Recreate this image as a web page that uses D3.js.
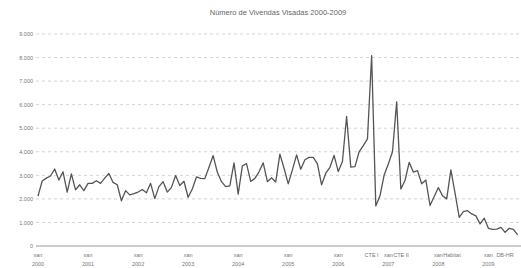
<!DOCTYPE html>
<html><head><meta charset="utf-8">
<script src="https://cdn.jsdelivr.net/npm/d3@7"></script>
<style>
html,body{margin:0;padding:0;background:#fff;}
svg{display:block;font-family:"Liberation Sans",Arial,sans-serif;}
</style></head>
<body><svg id="c" width="521" height="268"></svg>
<script>
const title = "Número de Vivendas Visadas 2000-2009";
const startYear = 2000;
const monthAbbr = "xan";
const yTicks = [0,1000,2000,3000,4000,5000,6000,7000,8000,9000];
// monthly values, Jan 2000 – Aug 2009
const values = [
2120,2760,2880,2970,3270,2800,3150,2290,3060,2380,2600,2350,
2660,2660,2770,2660,2880,3080,2700,2600,1920,2350,2170,2220,
2290,2400,2260,2660,2010,2520,2730,2290,2490,2990,2570,2750,
2070,2420,2930,2870,2860,3340,3840,3130,2730,2520,2550,3530,
2200,3400,3500,2740,2870,3150,3530,2730,2900,2720,3900,3300,
2640,3230,3870,3260,3660,3760,3760,3490,2600,3090,3340,3850,
3160,3590,5500,3350,3370,4000,4260,4550,8080,1700,2130,3010,
3480,4000,6120,2420,2780,3550,3140,3200,2640,2800,1720,2100,
2480,2130,2000,3230,2240,1220,1460,1500,1360,1280,940,1180,
750,710,720,790,580,750,710,470];
// event labels: month index and text
const eventIdx = [80, 86, 99, 112];
const eventText = ["CTE I", "CTE II", "Habitat", "DB-HR"];
const eventAnchor = ["middle", "start", "start", "middle"];
const eventShift = [0, -3.4, -7.6, 0];

const svg = d3.select("#c");
const x = d3.scaleLinear().domain([0, values.length-1]).range([38, 517.6]);
const y = d3.scaleLinear().domain([0, 9000]).range([246, 34]);
const loc = d3.formatLocale({decimal:",", thousands:".", grouping:[3], currency:["",""]});
const fmt = loc.format(",");

svg.append("text").attr("x", 278).attr("y", 15).attr("text-anchor","middle")
  .attr("font-size", 7.5).attr("fill", "#666").text(title);

// grid
svg.append("g").selectAll("line").data(yTicks.filter(d=>d>0)).join("line")
  .attr("x1", 36).attr("x2", 521).attr("y1", d=>y(d)).attr("y2", d=>y(d))
  .attr("stroke", "#d4d4d4").attr("stroke-width", 1).attr("stroke-dasharray", "3,3");

// y axis labels
const ya = svg.append("g").attr("transform","translate(36,0)")
  .call(d3.axisLeft(y).tickValues(yTicks).tickFormat(fmt).tickSize(0).tickPadding(3));
ya.select(".domain").remove();
ya.selectAll("text").attr("font-size", 5.5).attr("fill", "#777").attr("font-family", "Liberation Sans, Arial, sans-serif");

// baseline
svg.append("line").attr("x1", 36).attr("x2", 521).attr("y1", y(0)).attr("y2", y(0))
  .attr("stroke", "#999").attr("stroke-width", 1);

// x labels
const jan = d3.range(0, values.length, 12);
const xl = svg.append("g").attr("font-size", 5.5).attr("fill", "#777").attr("text-anchor","middle");
xl.selectAll("text.m").data(jan).join("text").attr("class","m")
  .attr("x", d=>x(d)).attr("y", 256.5).text(monthAbbr);
xl.selectAll("text.yr").data(jan).join("text").attr("class","yr")
  .attr("x", d=>x(d)).attr("y", 265.5).text(d=>startYear + d/12);
xl.selectAll("text.ev").data(eventIdx).join("text").attr("class","ev")
  .attr("text-anchor", (d,i)=>eventAnchor[i])
  .attr("x", (d,i)=>x(d) + eventShift[i]).attr("y", 256.5).text((d,i)=>eventText[i]);

// line
svg.append("path").datum(values)
  .attr("d", d3.line().x((d,i)=>x(i)).y(d=>y(d)))
  .attr("fill","none").attr("stroke","#555").attr("stroke-width",1.3).attr("stroke-linejoin","round");
</script></body></html>
